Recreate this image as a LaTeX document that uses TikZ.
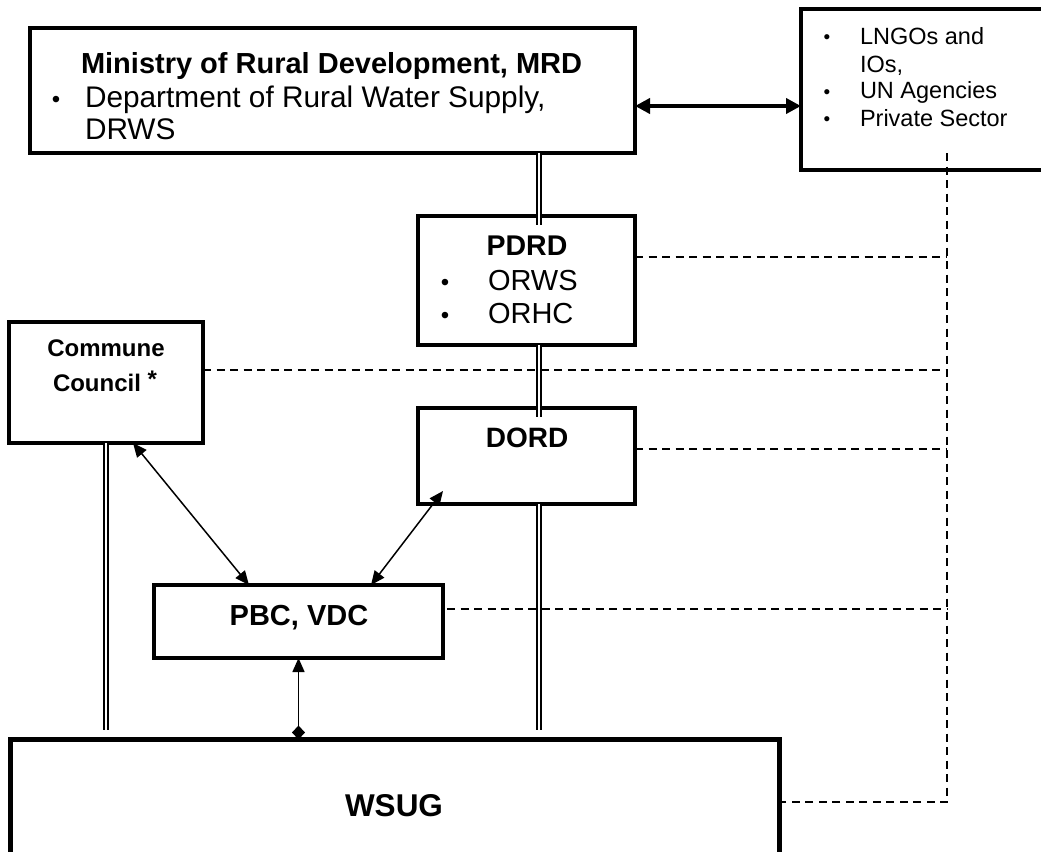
\documentclass[tikz,border=0pt]{standalone}
\usepackage{fontspec}
\setmainfont{Liberation Sans}
\usetikzlibrary{arrows.meta,calc}
\newcommand\fsz[1]{\fontsize{#1}{#1}\selectfont}
\begin{document}
\begin{tikzpicture}[x=1pt,y=-1pt,
  box/.style={draw, line width=3.3pt, rectangle, inner sep=0pt, outer sep=0pt, anchor=north west},
  txt/.style={inner sep=0pt, outer sep=0pt, anchor=base west},
  ctxt/.style={inner sep=0pt, outer sep=0pt, anchor=base},
  dbl/.style={double, double distance=2.3pt, line width=1.7pt},
  dsh/.style={line width=1.5pt, dash pattern=on 8pt off 5.5pt},
  thinarrow/.style={line width=1.5pt, arrows={Triangle[length=14pt,width=12pt]-Triangle[length=14pt,width=12pt]}},
]
\useasboundingbox (0,0) rectangle (1041,851);
\fill[white] (0,0) rectangle (1041,851);
\clip (0,0) rectangle (1041,851);

% boxes
\node[box, minimum width=605pt, minimum height=125pt] (mrd) at (30,28) {};
\node[box, minimum width=280pt, minimum height=161pt] (stake) at (801,9) {};
\node[box, minimum width=217pt, minimum height=129pt] (pdrd) at (418,216) {};
\node[box, minimum width=194pt, minimum height=121pt] (comm) at (9,322) {};
\node[box, minimum width=217pt, minimum height=96pt] (dord) at (418,408) {};
\node[box, minimum width=289pt, minimum height=73pt] (pbc) at (154,585) {};
\node[box, line width=5pt, minimum width=769pt, minimum height=200pt] (wsug) at (10,739.5) {};

% texts
\node[txt, font=\bfseries\fsz{29}] (mrdT) at (81,74) {Ministry of Rural Development, MRD};
\node[ctxt, font=\fsz{24}] (mrdB) at (56,107) {\textbullet};
\node[txt, font=\fsz{29.8}] (mrdD1) at (85,107) {Department of Rural Water Supply,};
\node[txt, font=\fsz{29.8}] (mrdD2) at (85,139) {DRWS};

\node[ctxt, font=\fsz{19}] (sb1) at (827,44) {\textbullet};
\node[ctxt, font=\fsz{19}] (sb2) at (827,98) {\textbullet};
\node[ctxt, font=\fsz{19}] (sb3) at (827,125) {\textbullet};
\node[txt, font=\fsz{23.5}] (st1) at (860,45) {LNGOs and};
\node[txt, font=\fsz{23.5}] (st2) at (860,72) {IOs,};
\node[txt, font=\fsz{23.5}] (st3) at (860,99) {UN Agencies};
\node[txt, font=\fsz{23.5}] (st4) at (860,126) {Private Sector};

\node[ctxt, font=\bfseries\fsz{28.5}] (pdrdT) at (527,255) {PDRD};
\node[ctxt, font=\fsz{24}] (pb1) at (445,290) {\textbullet};
\node[ctxt, font=\fsz{24}] (pb2) at (445,323) {\textbullet};
\node[txt, font=\fsz{29}] (pt1) at (488,290) {ORWS};
\node[txt, font=\fsz{29}] (pt2) at (488,323) {ORHC};

\node[ctxt, font=\bfseries\fsz{24}] (commT1) at (106,356.5) {Commune};
\node[txt, font=\bfseries\fsz{24}] (commT2) at (53,391) {Council \raisebox{4pt}{*}};

\node[ctxt, font=\bfseries\fsz{28}] (dordT) at (527,447) {DORD};
\node[ctxt, font=\bfseries\fsz{29}] (pbcT) at (299,625) {PBC, VDC};
\node[ctxt, font=\bfseries\fsz{31.5}] (wsugT) at (394,816) {WSUG};

% double lines
\coordinate (spine) at (539,0);
\draw[dbl] (spine |- mrd.south) -- ($(spine |- pdrd.north)+(0,9)$);
\draw[dbl] (spine |- pdrd.south) -- ($(spine |- dord.north)+(0,9)$);
\draw[dbl] (spine |- dord.south) -- ($(spine |- wsug.north)+(0,-10)$);
\path (comm.south west) ++(97,0) coordinate (cl);
\draw[dbl] (cl) -- ($(cl |- wsug.north)+(0,-10)$);

% dashed links
\coordinate (busTop) at (947,153);
\coordinate (busBot) at (947,802);
\draw[dsh] (busTop) -- (busBot) -- (busBot -| wsug.east);
\draw[dsh] ([yshift=-41pt]pdrd.north east) coordinate (d1) -- (d1 -| busTop);
\draw[dsh] ([yshift=-48pt]comm.north east) coordinate (d2) -- (d2 -| busTop);
\draw[dsh] ([yshift=-41pt]dord.north east) coordinate (d3) -- (d3 -| busTop);
\draw[dsh] ([xshift=4pt,yshift=-24pt]pbc.north east) coordinate (d4) -- (d4 -| busTop);

% arrows
\draw[line width=4pt, arrows={Triangle[length=15pt,width=15pt]-Triangle[length=15pt,width=15pt]}]
  ([yshift=-78pt]mrd.north east) coordinate (a1) -- (a1 -| stake.west);
\draw[thinarrow] ([xshift=124pt]comm.south west) -- ([xshift=95pt]pbc.north west);
\draw[thinarrow] ([xshift=25pt,yshift=13pt]dord.south west) -- ([xshift=217pt]pbc.north west);
\draw[line width=1.5pt, arrows={Triangle[length=14pt,width=12pt]-Diamond[length=14pt,width=13pt]}]
  (pbc.south) -- (pbc.south |- wsug.north);
\end{tikzpicture}
\end{document}
